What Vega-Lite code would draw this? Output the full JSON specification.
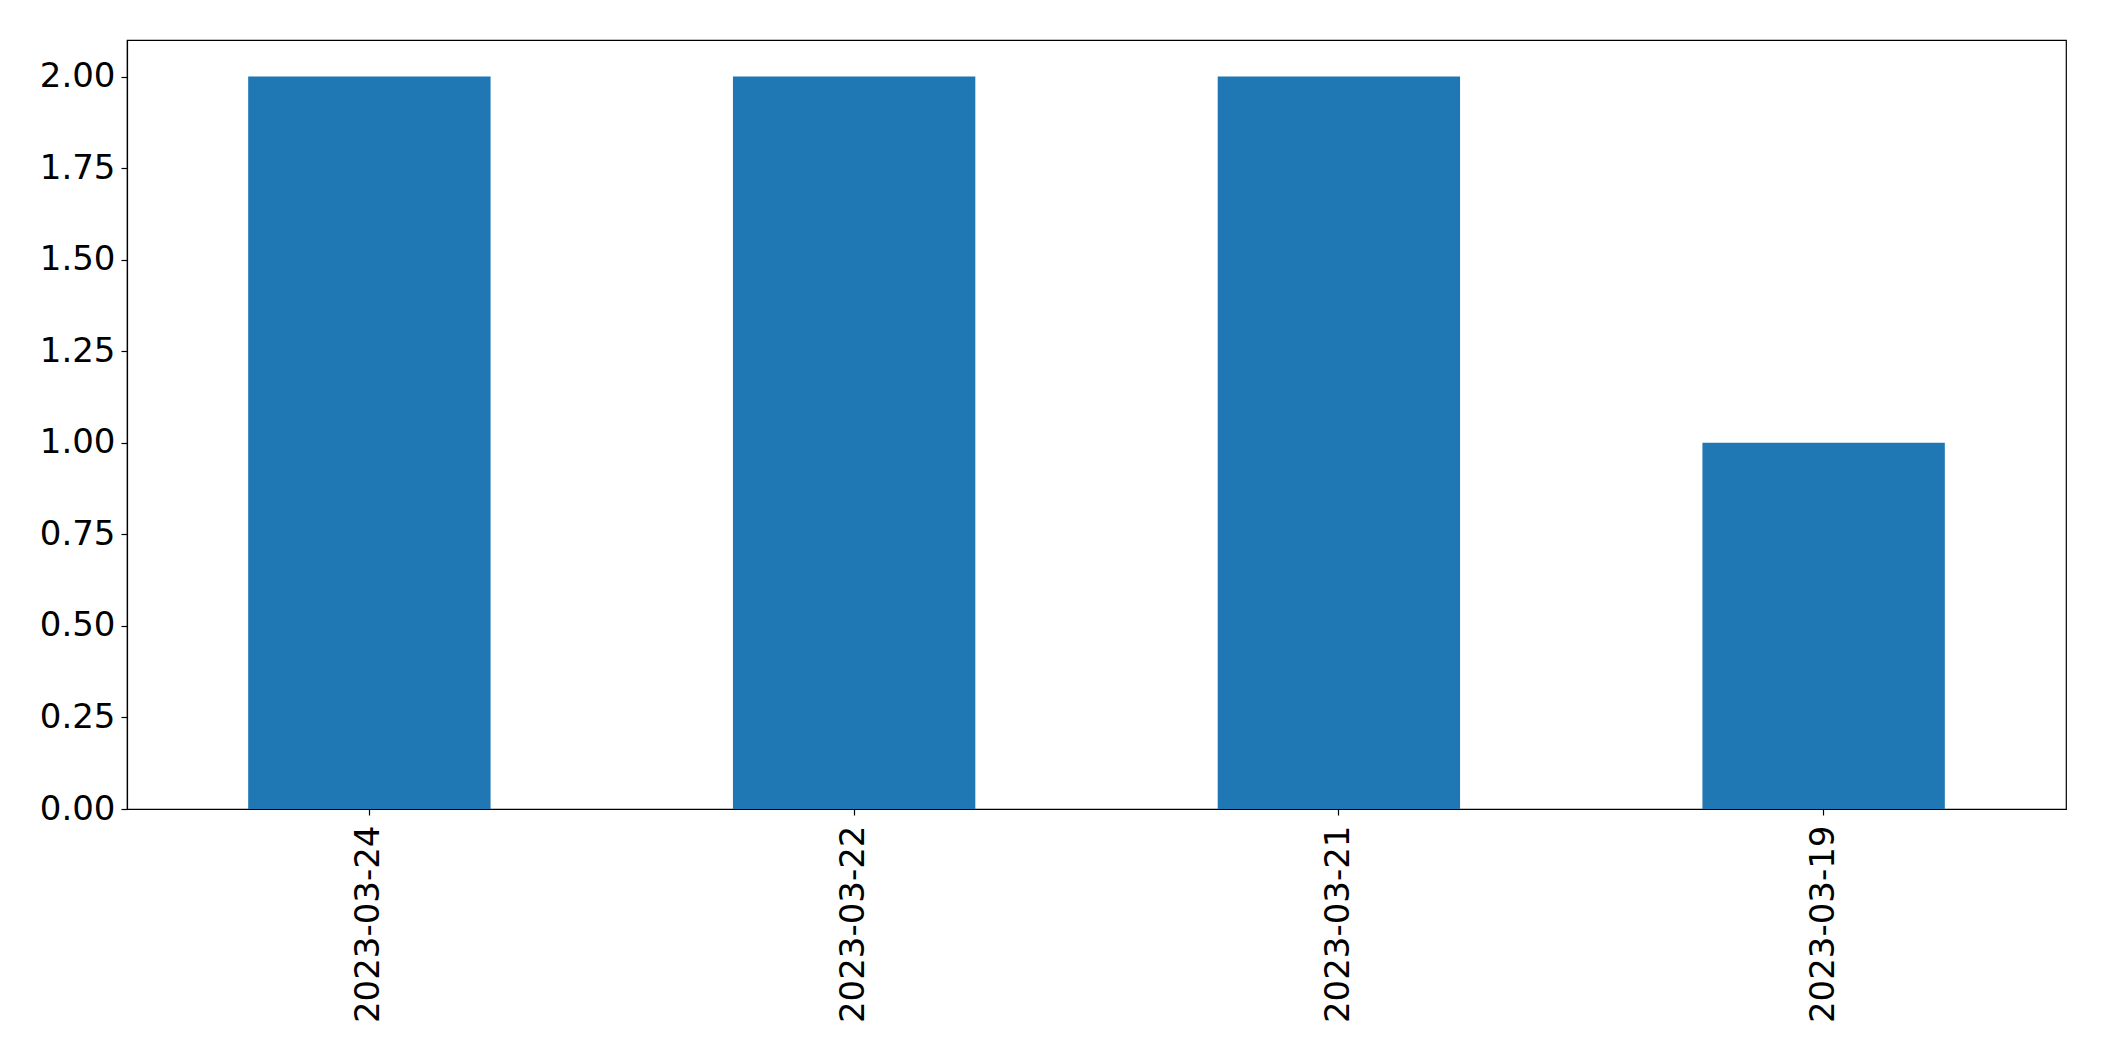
{
  "$schema": "https://vega.github.io/schema/vega-lite/v6.json",
  "autosize": {"type": "none"},
  "padding": {"left": 127, "top": 40, "right": 38, "bottom": 252},
  "width": 1939,
  "height": 769,
  "background": "white",
  "config": {
    "view": {"stroke": "black", "strokeWidth": 1.2},
    "axis": {
      "labelFont": "DejaVu Sans",
      "labelFontSize": 34,
      "labelColor": "black",
      "labelLimit": 0,
      "tickColor": "black",
      "domainColor": "black",
      "tickSize": 6,
      "tickWidth": 1.2,
      "domainWidth": 1.2,
      "grid": false,
      "title": null
    }
  },
  "data": {
    "values": [
      {"date": "2023-03-24", "count": 2},
      {"date": "2023-03-22", "count": 2},
      {"date": "2023-03-21", "count": 2},
      {"date": "2023-03-19", "count": 1}
    ]
  },
  "mark": {"type": "bar", "color": "#1f77b4"},
  "encoding": {
    "x": {
      "field": "date",
      "type": "nominal",
      "sort": null,
      "scale": {"paddingInner": 0.5, "paddingOuter": 0.25},
      "axis": {"labelAngle": 270, "labelPadding": 10, "labelAlign": "right", "labelBaseline": "middle"}
    },
    "y": {
      "field": "count",
      "type": "quantitative",
      "scale": {"domain": [0, 2.1], "nice": false, "zero": true},
      "axis": {"values": [0, 0.25, 0.5, 0.75, 1, 1.25, 1.5, 1.75, 2], "format": ".2f", "labelPadding": 6}
    }
  }
}
